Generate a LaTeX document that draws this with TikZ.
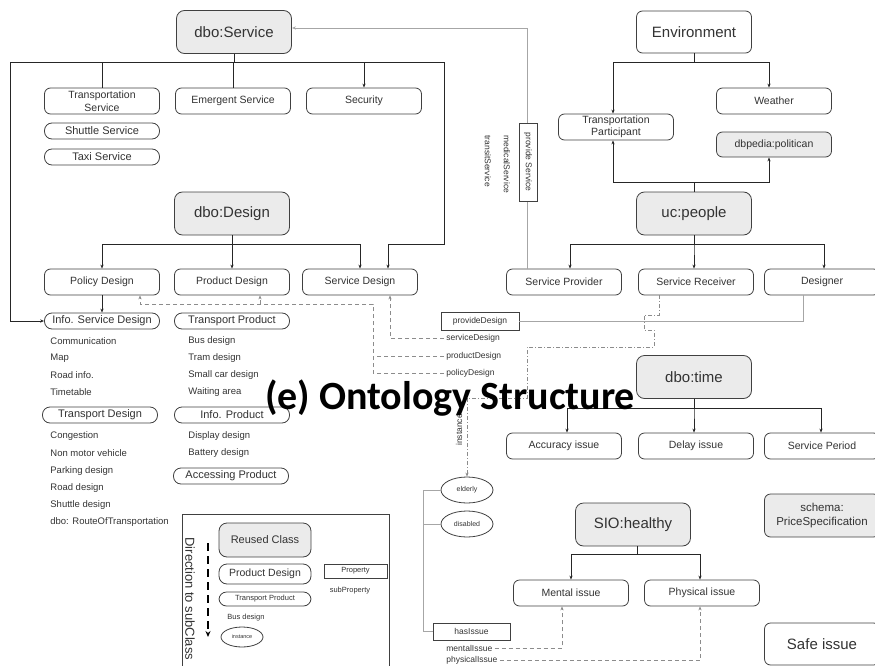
\documentclass[tikz,border=0pt]{standalone}
\usepackage{fontspec}
\setmainfont{Liberation Sans}
\newfontfamily\titlefont{Carlito}
\usetikzlibrary{positioning,shapes.geometric,arrows.meta}

\begin{document}
\begin{tikzpicture}[x=1pt,y=-1pt,>={Stealth[length=4pt,width=3.2pt]},line width=0.8pt]
\tikzstyle{every node}=[text=black!80]
\tikzstyle{cls}=[draw=black!75,fill=white,rounded corners=6pt,minimum width=115pt,minimum height=26pt,inner sep=0pt,align=center,font=\fontsize{10.5}{12.5}\selectfont]
\tikzstyle{rootcls}=[cls,fill=black!8,minimum height=43pt,rounded corners=8pt,font=\fontsize{15}{17}\selectfont]
\tikzstyle{pill}=[cls,minimum height=16pt,rounded corners=7.5pt,font=\fontsize{11}{12}\selectfont]
\tikzstyle{item}=[anchor=west,inner sep=1pt,font=\fontsize{9.5}{11}\selectfont]
\tikzstyle{plabel}=[anchor=west,inner sep=2pt,font=\fontsize{8.5}{10}\selectfont]
\tikzstyle{prop}=[draw=black!75,fill=white,minimum width=78pt,minimum height=18pt,inner sep=1pt,font=\fontsize{8.5}{10}\selectfont]
\tikzstyle{inst}=[ellipse,draw=black!75,fill=white,minimum width=52pt,minimum height=26pt,inner sep=0pt,font=\fontsize{7}{8}\selectfont]
\tikzstyle{tree}=[draw=black!85]
\tikzstyle{link}=[draw=black!35]
\tikzstyle{propline}=[draw=black!45,dash pattern=on 4pt off 3pt]

\useasboundingbox (0,0) rectangle (875,666);

% Clases de servicio
\node[rootcls] (service) at (234,32) {dbo:Service};
\node[cls] (transport) at (102,101) {Transportation\\Service};
\node[cls] (emergent) at (233,101) {Emergent Service};
\node[cls] (security) at (364,101) {Security};
\node[pill] (shuttle) at (102,131) {Shuttle Service};
\node[pill] (taxi) at (102,157) {Taxi Service};

% Clases de diseño
\node[rootcls] (design) at (232,213.5) {dbo:Design};
\node[cls] (policy) at (102,282) {Policy Design};
\node[cls] (product) at (232,282) {Product Design};
\node[cls] (servdesign) at (360,282) {Service Design};

% Subclases de diseño
\node[pill] (infoserv) at (102,321) {Info. Service Design};
\node[pill] (transprod) at (232,321) {Transport Product};
\node[pill] (transdes) at (100,415) {Transport Design};
\node[pill] (infoprod) at (232,415) {Info. Product};
\node[pill] (access) at (231,476) {Accessing Product};

% Instancias
\foreach \t [count=\i] in {Communication,Map,Road info.,Timetable}
  \node[item] (isd\i) at (49,324+17*\i) {\t};
\foreach \t [count=\i] in {Bus design,Tram design,Small car design,Waiting area}
  \node[item] (tp\i) at (187,324+17*\i) {\t};
\foreach \t [count=\i] in {Display design,Battery design}
  \node[item] (ip\i) at (187,419+17*\i) {\t};
\foreach \t [count=\i] in {Congestion,Non motor vehicle,Parking design,Road design,Shuttle design,dbo: RouteOfTransportation}
  \node[item] (td\i) at (49,419+17.2*\i) {\t};

% Entorno y personas
\node[cls,minimum height=42pt,font=\fontsize{15}{17}\selectfont] (env) at (694,32) {Environment};
\node[cls] (participant) at (616,127) {Transportation\\Participant};
\node[cls] (weather) at (774,101) {Weather};
\node[cls,fill=black!8,minimum height=25pt] (politican) at (774,144.5) {dbpedia:politican};
\node[rootcls] (people) at (694,213.5) {uc:people};
\node[cls] (provider) at (564,282) {Service Provider};
\node[cls] (receiver) at (696,282) {Service Receiver};
\node[cls] (designer) at (822,282) {Designer};

% Tiempo, salud y otros
\node[rootcls] (time) at (694,377) {dbo:time};
\node[cls] (accuracy) at (564,446) {Accuracy issue};
\node[cls] (delay) at (696,446) {Delay issue};
\node[cls] (period) at (822,446) {Service Period};
\node[cls,fill=black!8,minimum height=43pt,font=\fontsize{11.5}{14}\selectfont] (price) at (822,515.5) {schema:\\PriceSpecification};
\node[rootcls] (healthy) at (633,524.5) {SIO:healthy};
\node[cls] (mental) at (571,593) {Mental issue};
\node[cls] (physical) at (702,593) {Physical issue};
\node[cls,minimum height=42pt,font=\fontsize{15}{17}\selectfont] (safe) at (822,644) {Safe issue};

% Instancias de personas
\node[inst] (elderly) at (467,490) {elderly};
\node[inst] (disabled) at (467,524) {disabled};

% Jerarquía de dbo:Service
\path[tree,->]
(service.south) edge[-] (service.south |- 0,62)
(service.south) -- ++(0,9) -| (transport.north)
(service.south) -- ++(0,9) -| (emergent.north)
(service.south) -- ++(0,9) -| (security.north);
\coordinate (lframe) at (10,62);
\coordinate (rframe) at (444,62);
\coordinate (rframe2) at (444,244);
\draw[tree,->] (service.south) |- (lframe) |- (infoserv.west);
\draw[tree,->] (service.south) |- (rframe) -- (rframe2) -| ([xshift=28pt]servdesign.north);

% Jerarquía de dbo:Design
\draw[tree,->] (design.south) -- ++(0,9) -| (policy.north);
\draw[tree,->] (design.south) -- (product.north);
\draw[tree,->] (design.south) -- ++(0,9) -| (servdesign.north);
\draw[tree,->] (policy.south) -- (infoserv.north);

% Jerarquía del entorno
\draw[tree,->] (env.south) -- ++(0,9) -| ([xshift=-3pt]participant.north);
\draw[tree,->] (env.south) -- ++(0,9) -| ([xshift=-5pt]weather.north);
\draw[tree,->] (people.north) -- ++(0,-9) -| ([xshift=-3pt]participant.south);
\draw[tree,->] (people.north) -- ++(0,-9) -| ([xshift=-5pt]politican.south);

% Jerarquía de uc:people
\draw[tree,->] (people.south) -- ++(0,9) -| ([xshift=6pt]provider.north);
\draw[tree,->] (people.south) -- ++(0,9) -| ([xshift=-2pt]receiver.north);
\draw[tree,->] (people.south) -- ++(0,9) -| ([xshift=2pt]designer.north);

% Jerarquía de dbo:time
\draw[tree,->] (time.south) -- ++(0,9) -| ([xshift=3pt]accuracy.north);
\draw[tree,->] (time.south) -- ++(0,9) -| ([xshift=-2pt]delay.north);
\draw[tree,->] (time.south) -- ++(0,9) -| ([xshift=-1pt]period.north);

% Jerarquía de SIO:healthy
\draw[tree,->] ([xshift=4pt]healthy.south) -- ++(0,8) -| (mental.north);
\draw[tree,->] ([xshift=4pt]healthy.south) -- ++(0,8) -| ([xshift=-2pt]physical.north);

% Propiedad provide Service
\draw[link,->] ([xshift=-37pt]provider.north) |- ([yshift=4pt]service.east);
\node[prop,rotate=-90] (provsvc) at (528,162) {provide Service};
\node[plabel,rotate=-90] (medical) at (507,133) {medicalService};
\node[plabel,rotate=-90] (transit) at (488,133) {transitService};

% Propiedad provideDesign
\node[prop] (provdes) at (480,321) {provideDesign};
\draw[link] ([xshift=-19pt]designer.south) |- (provdes.east);
\node[plabel] (svdlbl) at (444,338) {serviceDesign};
\node[plabel] (prdlbl) at (444,356) {productDesign};
\node[plabel] (poldlbl) at (444,373) {policyDesign};
\coordinate (cp) at (373,304);
\coordinate (prodtip) at ([xshift=28pt]product.south);
\draw[propline,->] (svdlbl.west) -| ([xshift=30pt]servdesign.south);
\draw[propline,->] (poldlbl.west) -| (cp) -| ([xshift=38pt]policy.south);
\draw[propline] (prdlbl.west) -- (prdlbl.west -| cp);
\draw[propline,->] (prodtip |- cp) -- (prodtip);

% Instancia de Service Receiver
\coordinate (instbend) at (527,398);
\draw[propline,dash pattern=on 4pt off 2pt on 1pt off 2pt,->] ([xshift=-37pt]receiver.south) -- ++(0,20) -- ++(-15,0) -- ++(0,15) -- ++(10,0) -- ++(0,17) -| (instbend) -| (elderly.north);
\node[plabel,rotate=90,anchor=center,font=\fontsize{8.5}{10}\selectfont] (instlbl) at (459,430) {instance};

% Propiedad hasIssue
\node[prop,minimum width=77pt,minimum height=17pt] (hasissue) at (471.5,631.5) {hasIssue};
\draw[link] (elderly.west) -| ([xshift=-9pt]hasissue.west) -- (hasissue.west);
\draw[link] (disabled.west) -- ++(-17,0);
\node[plabel] (mlbl) at (444,648) {mentalIssue};
\node[plabel] (plbl) at (444,660.5) {physicalIssue};
\draw[propline,->] (mlbl.east) -| ([xshift=-9pt]mental.south);
\draw[propline,->] (plbl.east) -| ([xshift=-2pt]physical.south);

% Leyenda
\node[draw=black!75,anchor=north west,minimum width=207pt,minimum height=170pt,inner sep=0pt] (legend) at (182,514) {};
\node[rootcls,minimum width=92pt,minimum height=34pt,font=\fontsize{11}{13}\selectfont] (reused) at (265,540) {Reused Class};
\node[cls,minimum width=92pt,minimum height=20pt,rounded corners=8pt] (lgprod) at (265,574) {Product Design};
\node[pill,minimum width=92pt,minimum height=14pt,font=\fontsize{7.5}{9}\selectfont] (lgtrans) at (265,599) {Transport Product};
\node[item,font=\fontsize{7.5}{9}\selectfont] (lgbus) at (226,618) {Bus design};
\node[inst,minimum width=42pt,minimum height=20pt,font=\fontsize{5.5}{6}\selectfont] (lginst) at (242,637) {instance};
\node[prop,minimum width=63pt,minimum height=14pt,font=\fontsize{7.5}{9}\selectfont] (lgprop) at (355.5,571) {Property};
\node[font=\fontsize{7.5}{9}\selectfont] (lgsub) at (350,591) {subProperty};
\node[rotate=-90,anchor=west,inner sep=0pt,font=\fontsize{13}{15}\selectfont] (direction) at (190,537) {Direction to subClass};
\coordinate (dirtop) at (208,543);
\coordinate (dirbot) at (208,637);
\draw[line width=1.6pt,dash pattern=on 8pt off 5pt,-{Stealth[length=6pt,width=5pt]}] (dirtop) -- (dirbot);

% Título
\node[anchor=base,inner sep=0pt,text=black,font=\titlefont\bfseries\fontsize{40}{44}\selectfont] (title) at (450,409) {(e) Ontology Structure};
\end{tikzpicture}
\end{document}
